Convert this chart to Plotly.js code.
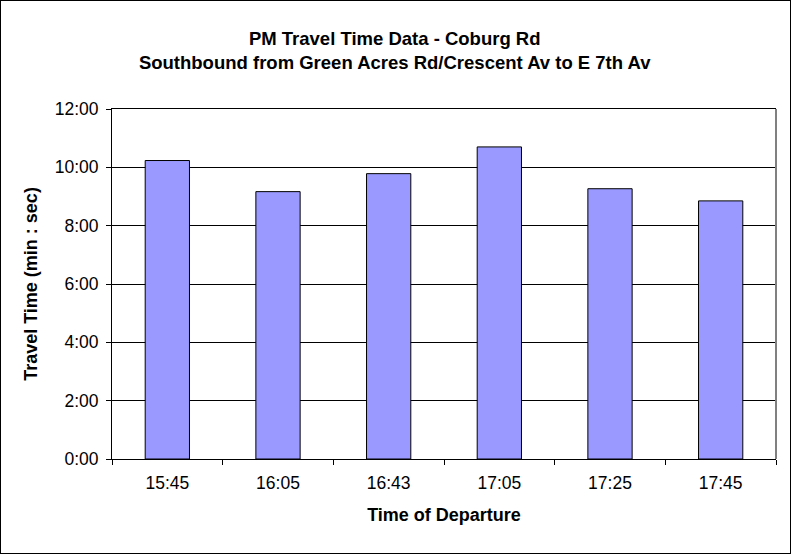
<!DOCTYPE html>
<html>
<head>
<meta charset="utf-8">
<script src="https://cdn.plot.ly/plotly-3.0.1.min.js"></script>
<style>
  html, body { margin: 0; padding: 0; background: #fff; }
  #frame { position: absolute; left: 0; top: 0; width: 791px; height: 554px; box-sizing: border-box; border: 1px solid #000; }
  #chart { width: 789px; height: 552px; }
</style>
</head>
<body>
<div id="frame"><div id="chart"></div></div>
<script>
// Data
const departureTimes = ["15:45", "16:05", "16:43", "17:05", "17:25", "17:45"];
const travelTimes = ["10:14", "9:10", "9:47", "10:42", "9:16", "8:51"]; // min:sec
const yTickValues = [0, 2, 4, 6, 8, 10, 12]; // minutes
const yTickLabels = ["0:00", "2:00", "4:00", "6:00", "8:00", "10:00", "12:00"];

function toMinutes(s) {
  const p = s.split(":");
  return Number(p[0]) + Number(p[1]) / 60;
}
const travelMinutes = travelTimes.map(toMinutes);

const font = "Liberation Sans, Arial, sans-serif";

const trace = {
  type: "bar",
  x: departureTimes,
  y: travelMinutes,
  text: travelTimes,
  hoverinfo: "x+text",
  textposition: "none",
  marker: { color: "#9999FF", line: { color: "#000000", width: 1 } }
};

const layout = {
  width: 789,
  height: 552,
  margin: { l: 111, t: 108, r: 14, b: 94, pad: 0 },
  paper_bgcolor: "#ffffff",
  plot_bgcolor: "#ffffff",
  showlegend: false,
  bargap: 0.6,
  font: { family: font, color: "#000000" },
  title: {
    text: "<b>PM Travel Time Data - Coburg Rd<br>Southbound from Green Acres Rd/Crescent Av to E 7th Av</b>",
    font: { family: font, size: 18.5, color: "#000000" },
    x: 0.499,
    xref: "container",
    xanchor: "center",
    y: 0.92,
    yref: "container",
    yanchor: "middle"
  },
  xaxis: {
    type: "category",
    showline: true,
    mirror: true,
    linecolor: "#000000",
    linewidth: 1,
    ticks: "outside",
    tickson: "boundaries",
    ticklen: 5,
    tickcolor: "#000000",
    tickfont: { family: font, size: 17.5, color: "#000000" },
    ticklabelstandoff: 8,
    showgrid: false,
    zeroline: false,
    title: { text: "<b>Time of Departure</b>", font: { family: font, size: 18, color: "#000000" }, standoff: 16 }
  },
  yaxis: {
    range: [0, 12],
    tickvals: yTickValues,
    ticktext: yTickLabels,
    showline: true,
    linecolor: "#000000",
    linewidth: 1,
    ticks: "outside",
    ticklen: 5,
    tickcolor: "#000000",
    tickfont: { family: font, size: 17.5, color: "#000000" },
    ticklabelstandoff: 4,
    showgrid: true,
    gridcolor: "#000000",
    gridwidth: 1,
    zeroline: false,
    title: { text: "<b>Travel Time (min : sec)</b>", font: { family: font, size: 18, color: "#000000" }, standoff: 12 }
  },
  shapes: [
    { type: "line", xref: "paper", yref: "paper", x0: 1, x1: 1, y0: 0, y1: 1,
      line: { color: "#808080", width: 2 } }
  ]
};

Plotly.newPlot("chart", [trace], layout, { displayModeBar: false, staticPlot: true });
</script>
</body>
</html>
